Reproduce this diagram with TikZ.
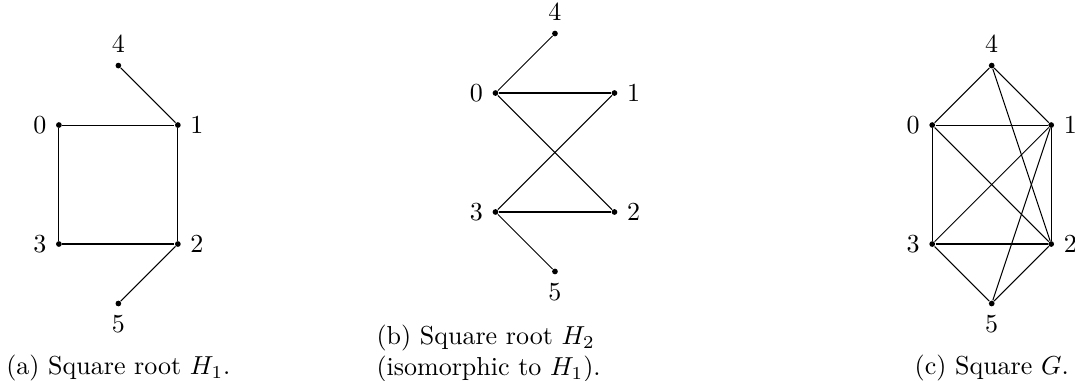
\documentclass[tikz,border=0pt]{standalone}
\usepackage{amsmath}
\usepackage{tikz}
\usetikzlibrary{positioning}

\begin{document}
\begin{tikzpicture}[
    vertex/.style={circle, fill, inner sep=0pt, minimum size=2.2pt},
    edge/.style={line width=0.4pt},
    caption/.style={inner sep=0pt}
]
    \useasboundingbox (0,0) rectangle (14.53,-5.149);

    % (a) Square root H_1
    \begin{scope}[shift={(1.600cm,-2.494cm)}, x=0.804cm, y=0.804cm]
        \node[vertex, label=left:$0$]  (a0) at (-1, 1) {};
        \node[vertex, label=right:$1$] (a1) at ( 1, 1) {};
        \node[vertex, label=right:$2$] (a2) at ( 1,-1) {};
        \node[vertex, label=left:$3$]  (a3) at (-1,-1) {};
        \node[vertex, label=above:$4$] (a4) at ( 0, 2) {};
        \node[vertex, label=below:$5$] (a5) at ( 0,-2) {};
        \draw[edge] (a4) -- (a1);
        \draw[edge] (a0) -- (a1) -- (a2) -- (a3) -- (a0);
        \draw[edge] (a2) -- (a5);
    \end{scope}

    % (b) Square root H_2
    \begin{scope}[shift={(7.501cm,-2.061cm)}, x=0.804cm, y=0.804cm]
        \node[vertex, label=left:$0$]  (b0) at (-1, 1) {};
        \node[vertex, label=right:$1$] (b1) at ( 1, 1) {};
        \node[vertex, label=right:$2$] (b2) at ( 1,-1) {};
        \node[vertex, label=left:$3$]  (b3) at (-1,-1) {};
        \node[vertex, label=above:$4$] (b4) at ( 0, 2) {};
        \node[vertex, label=below:$5$] (b5) at ( 0,-2) {};
        \draw[edge] (b4) -- (b0);
        \draw[edge] (b0) -- (b1);
        \draw[edge] (b0) -- (b2);
        \draw[edge] (b3) -- (b1);
        \draw[edge] (b3) -- (b2);
        \draw[edge] (b3) -- (b5);
    \end{scope}

    % (c) Square G
    \begin{scope}[shift={(13.404cm,-2.494cm)}, x=0.804cm, y=0.804cm]
        \node[vertex, label=left:$0$]  (c0) at (-1, 1) {};
        \node[vertex, label=right:$1$] (c1) at ( 1, 1) {};
        \node[vertex, label=right:$2$] (c2) at ( 1,-1) {};
        \node[vertex, label=left:$3$]  (c3) at (-1,-1) {};
        \node[vertex, label=above:$4$] (c4) at ( 0, 2) {};
        \node[vertex, label=below:$5$] (c5) at ( 0,-2) {};
        \draw[edge] (c4) -- (c0);
        \draw[edge] (c4) -- (c1);
        \draw[edge] (c4) -- (c2);
        \draw[edge] (c0) -- (c1);
        \draw[edge] (c0) -- (c3);
        \draw[edge] (c0) -- (c2);
        \draw[edge] (c1) -- (c3);
        \draw[edge] (c1) -- (c2);
        \draw[edge] (c1) -- (c5);
        \draw[edge] (c3) -- (c2);
        \draw[edge] (c3) -- (c5);
        \draw[edge] (c2) -- (c5);
    \end{scope}

    % Captions
    \node[caption, anchor=base] (capa) at (1.600,-5.068) {(a) Square root $H_1$.};
    \node[caption, anchor=north west, align=left] (capb) at (5.082,-4.386)
        {(b) Square root $H_2$\\(isomorphic to $H_1$).};
    \node[caption, anchor=base] (capc) at (13.404,-5.068) {(c) Square $G$.};
\end{tikzpicture}
\end{document}
